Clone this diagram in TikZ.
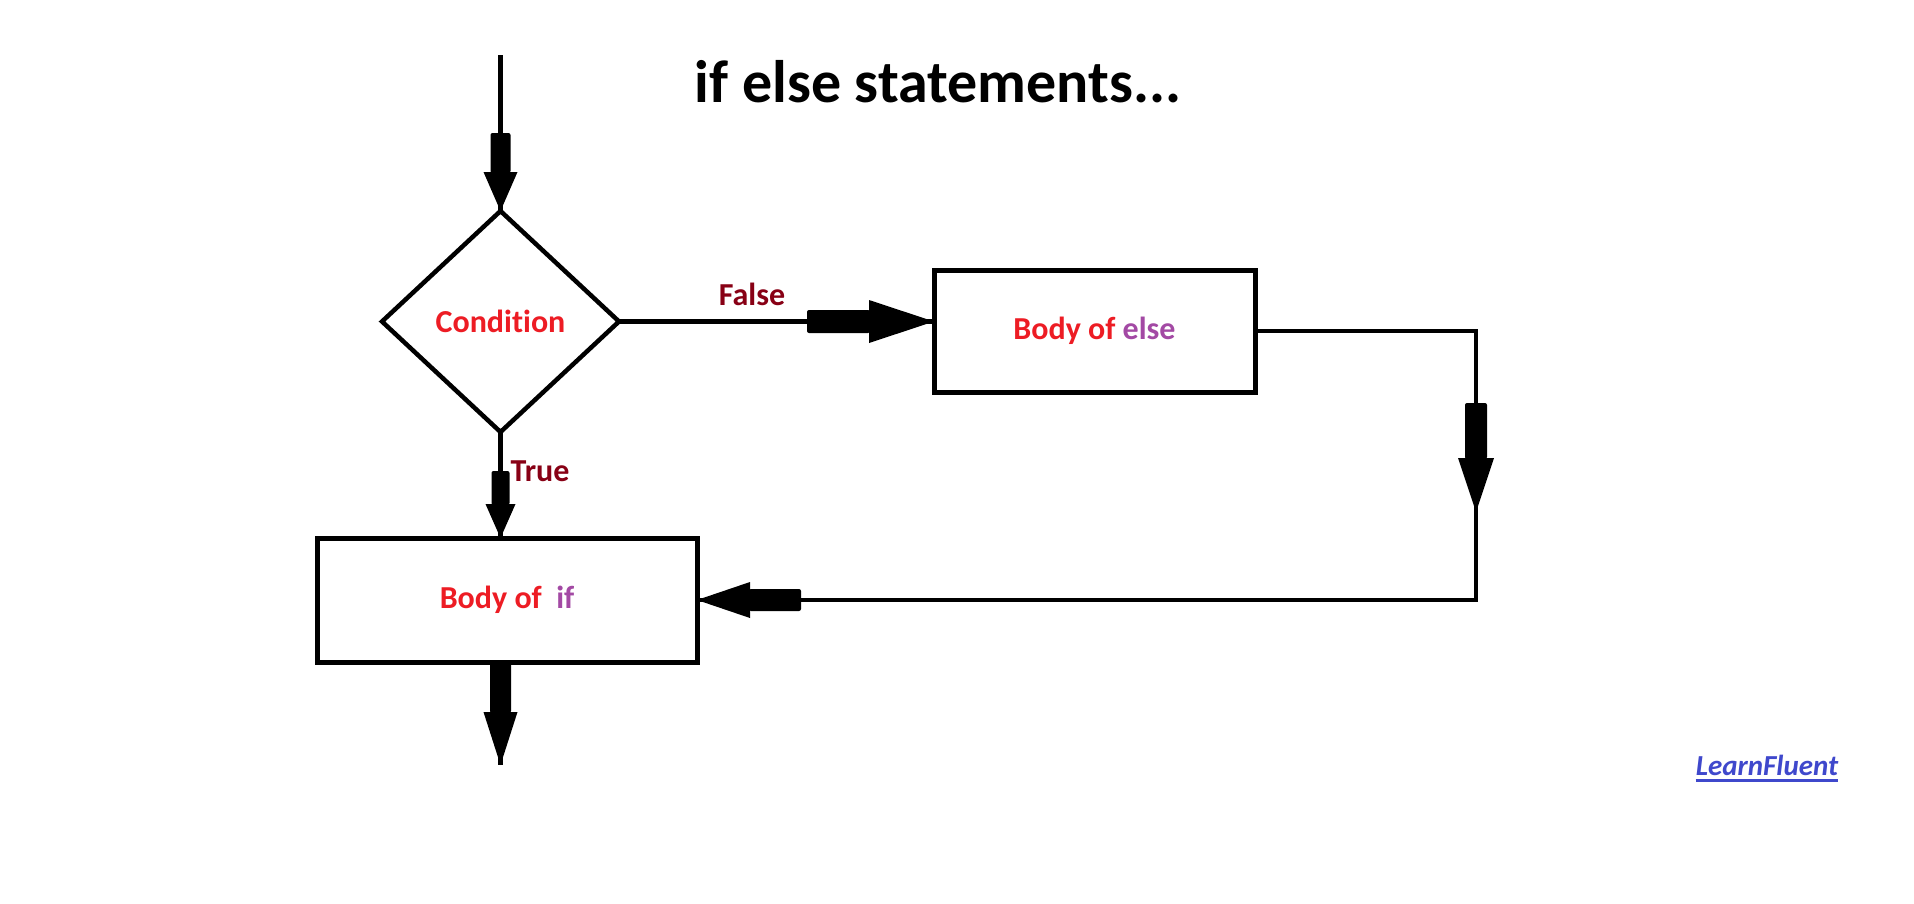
\documentclass[tikz,border=0pt]{standalone}
\usepackage{fontspec}
\setmainfont{Carlito}[Ligatures={NoCommon}]
\usetikzlibrary{shapes.geometric}
\definecolor{pred}{HTML}{ED1C24}
\definecolor{ppurple}{HTML}{A349A4}
\definecolor{pdark}{HTML}{880015}
\definecolor{pblue}{HTML}{3F48CC}
\tikzset{
  flowbox/.style={draw, rectangle, line width=5pt, inner sep=0pt, outer sep=0pt, text=pred,
    font=\fontsize{32}{38}\selectfont\bfseries},
  decision/.style={draw, diamond, line width=4.5pt, inner sep=0pt, outer sep=0pt, text=pred,
    font=\fontsize{32}{38}\selectfont\bfseries},
  branchlabel/.style={text=pdark, inner sep=0pt, font=\fontsize{32}{38}\selectfont\bfseries},
  conn/.style={line width=4.5pt},
  headfill/.style={fill=black}
}
\begin{document}
\begin{tikzpicture}[x=1pt,y=-1pt]
\useasboundingbox[fill=white] (0,0) rectangle (1914,903);

% title
\node[anchor=base, inner sep=0pt, font=\fontsize{60}{72}\selectfont\bfseries] (title) at (938,102) {if else statements...};

% nodes
\node[decision, minimum width=237pt, minimum height=221pt] (cond) at (500.5,321.5) {Condition};
\node[flowbox, minimum width=380pt, minimum height=124pt] (ifb) at (507,600) {Body of~ \textcolor{ppurple}{if}};
\node[flowbox, minimum width=321pt, minimum height=122pt] (elseb) at (1094.5,331) {Body of \textcolor{ppurple}{else}};

\node[branchlabel] (false) at (752,294) {False};
\node[branchlabel] (true) at (540,471) {True};

\coordinate (start) at (500.5,55);
\coordinate (out) at (500.5,765);
\coordinate (c1) at (1476,331);
\coordinate (c2) at (1476,600);
\coordinate (tT) at (cond.south |- ifb.north);
\coordinate (tF) at (cond.east -| elseb.west);
\coordinate (tB) at (cond.south |- ifb.south);

% thin connectors
\draw[conn] (start) -- (cond.north);
\draw[conn] (cond.south) -- (tT);
\draw[conn] (cond.east) -- (tF);
\draw[conn] (elseb.east) -- (c1) -- (c2) -- (ifb.east);
\draw[conn] (tB) -- (out);

% big arrow heads
% 1: into condition
\fill[headfill, rounded corners=2pt] ([shift={(-10,-78)}]cond.north) rectangle ([shift={(10,-38)}]cond.north);
\fill[headfill] ([shift={(-17,-39)}]cond.north) -- ([shift={(17,-39)}]cond.north) -- (cond.north) -- cycle;
% 2: true
\fill[headfill, rounded corners=2pt] ([shift={(-9,-67)}]tT) rectangle ([shift={(9,-33)}]tT);
\fill[headfill] ([shift={(-15,-34)}]tT) -- ([shift={(15,-34)}]tT) -- (tT) -- cycle;
% 3: out
\fill[headfill, rounded corners=2pt] ([shift={(-10.5,-103)}]out) rectangle ([shift={(10.5,-52)}]out);
\fill[headfill] ([shift={(-17,-53)}]out) -- ([shift={(17,-53)}]out) -- (out) -- cycle;
% 4: false
\fill[headfill, rounded corners=2pt] ([shift={(-127,-11.5)}]tF) rectangle ([shift={(-64,11.5)}]tF);
\fill[headfill] ([shift={(-65,-21.5)}]tF) -- ([shift={(-65,21.5)}]tF) -- (tF) -- cycle;
% 5: right down
\fill[headfill, rounded corners=2pt] ([shift={(-11,-197)}]c2) rectangle ([shift={(11,-141)}]c2);
\fill[headfill] ([shift={(-18,-142)}]c2) -- ([shift={(18,-142)}]c2) -- ([shift={(0,-88)}]c2) -- cycle;
% 6: left into if
\fill[headfill, rounded corners=2pt] ([shift={(52,-11)}]ifb.east) rectangle ([shift={(104,11)}]ifb.east);
\fill[headfill] ([shift={(53,-18)}]ifb.east) -- ([shift={(53,18)}]ifb.east) -- (ifb.east) -- cycle;

% signature
\node[anchor=base, inner sep=0pt, text=pblue, font=\fontsize{29}{35}\selectfont\bfseries\itshape] (sig) at (1767,775) {LearnFluent};
\draw[pblue, line width=3pt] ([yshift=-5pt]sig.base west) -- ([yshift=-5pt]sig.base east);
\end{tikzpicture}
\end{document}
